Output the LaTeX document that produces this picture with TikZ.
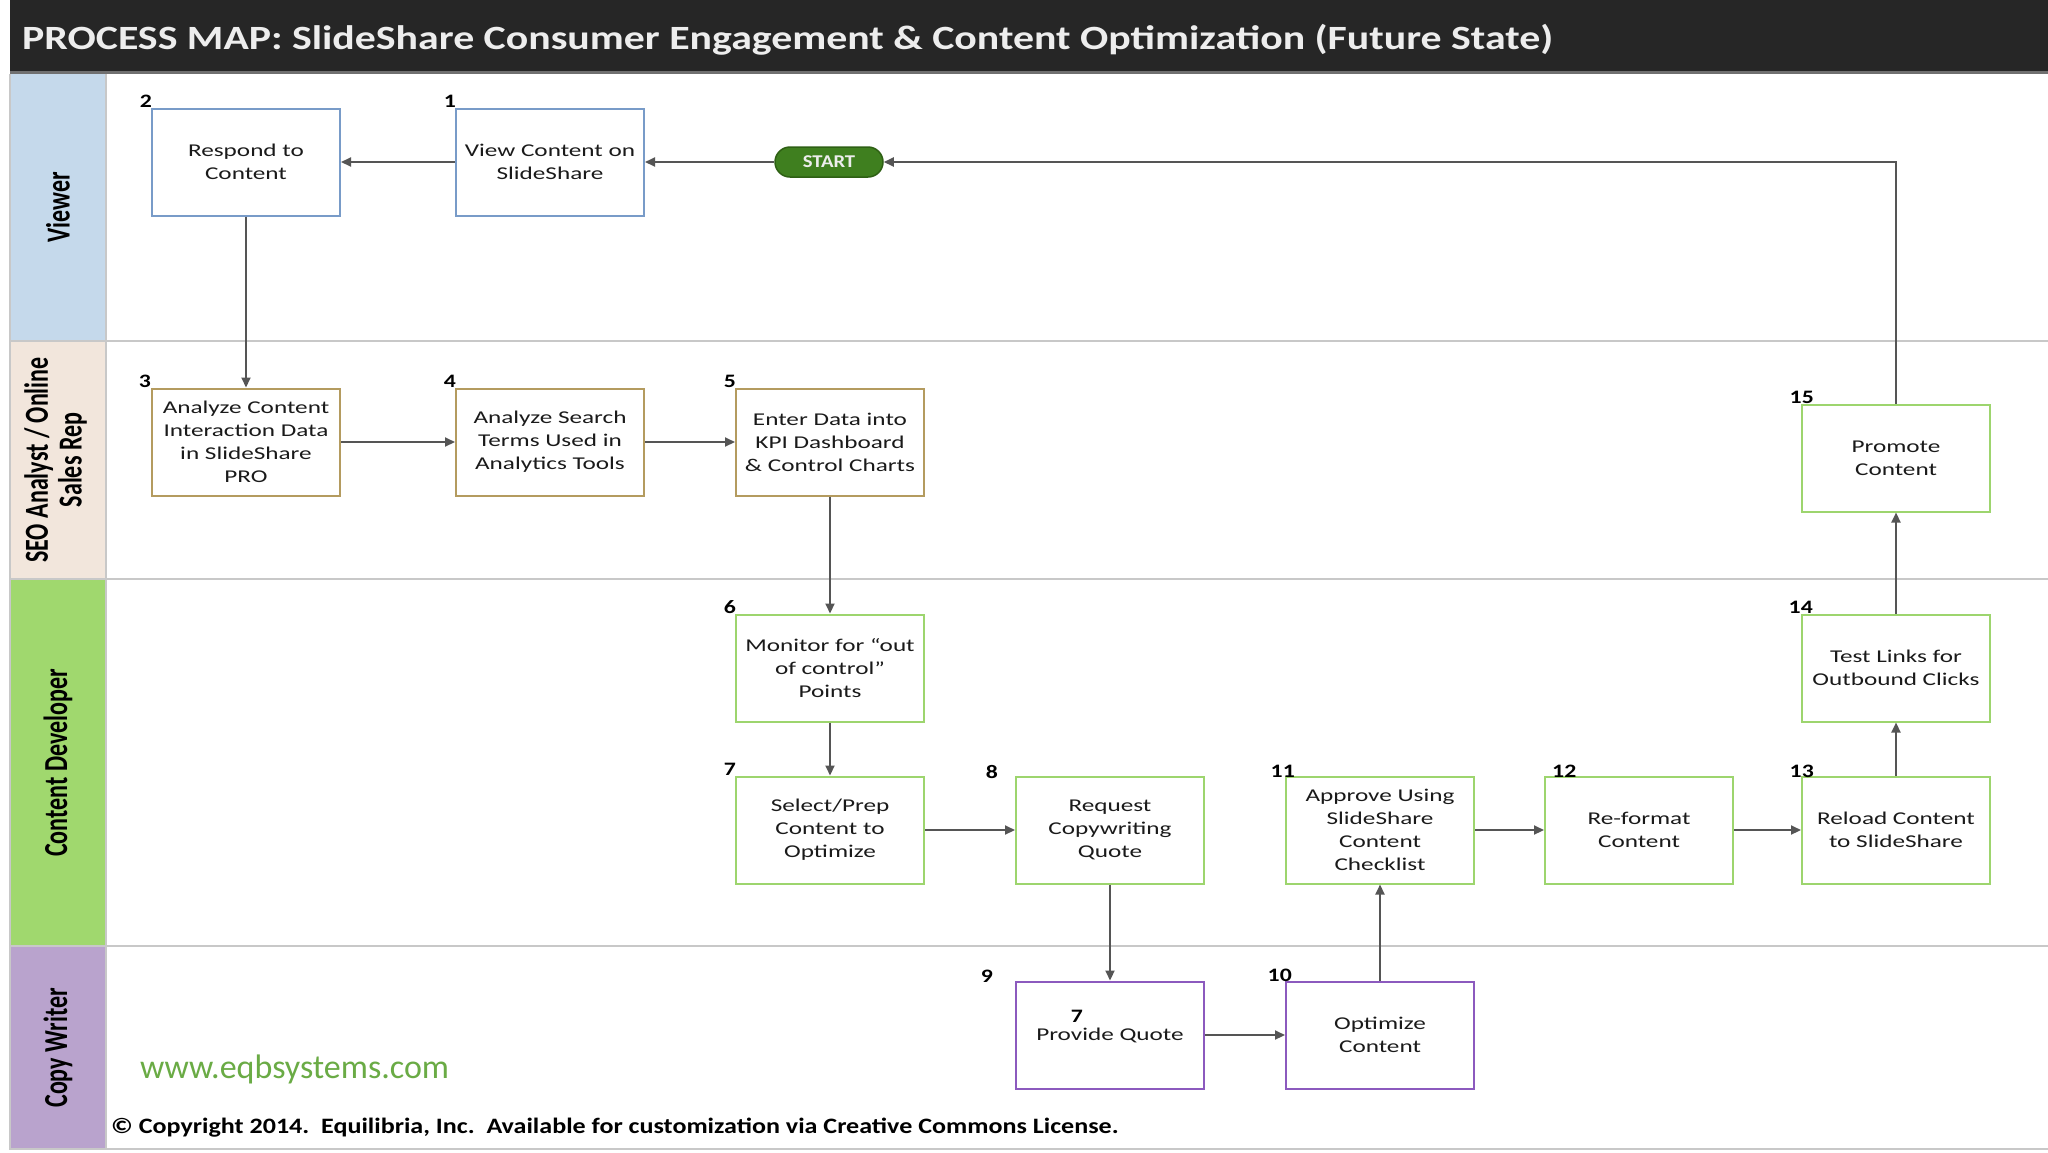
\documentclass[tikz,border=0pt]{standalone}
\usepackage{fontspec}
\usepackage{graphicx}
\setmainfont{Carlito}
\newfontfamily\boxfont{Carlito}[FakeStretch=1.4]
\newfontfamily\numfont{Carlito}[FakeStretch=1.25]
\newfontfamily\titlefont{Carlito}[FakeStretch=1.23]
\newfontfamily\startfont{Carlito}[FakeStretch=1.15]
\newfontfamily\copyfont{Carlito}[FakeStretch=1.185]
\usetikzlibrary{arrows.meta}
\definecolor{titlebg}{HTML}{262626}
\definecolor{titleline}{HTML}{707070}
\definecolor{titletxt}{HTML}{EDEDED}
\definecolor{vlane}{HTML}{C5D9EB}
\definecolor{slane}{HTML}{F2E6DC}
\definecolor{glane}{HTML}{A0D86E}
\definecolor{plane}{HTML}{B9A3CD}
\definecolor{vb}{HTML}{789BC8}
\definecolor{sb}{HTML}{B49B5F}
\definecolor{gb}{HTML}{9DD56E}
\definecolor{pb}{HTML}{8C5ABE}
\definecolor{cgray}{HTML}{555555}
\definecolor{laneline}{HTML}{C8C8C8}
\definecolor{txt}{HTML}{1A1A1A}
\definecolor{startfill}{HTML}{3F7F1F}
\definecolor{startdraw}{HTML}{2E6014}
\definecolor{wmark}{HTML}{6AAB45}
\begin{document}
\begin{tikzpicture}[x=1pt,y=-1pt,
  box/.style={draw, line width=2pt, fill=white, minimum width=188pt, minimum height=107pt,
    inner sep=0pt, align=center, text=txt, font=\boxfont\fontsize{18}{23}\selectfont},
  vbox/.style={box, draw=vb},
  sbox/.style={box, draw=sb},
  gbox/.style={box, draw=gb},
  pbox/.style={box, draw=pb},
  num/.style={font=\numfont\bfseries\fontsize{19}{19}\selectfont, inner sep=0pt, text=black},
  conn/.style={draw=cgray, line width=2pt, -{Triangle[length=10pt,width=9pt]}},
  lanelab/.style={rotate=90, inner sep=0pt, text=black, font=\bfseries\fontsize{24}{24}\selectfont},
  laneline/.style={draw=laneline, line width=2pt},
]
\useasboundingbox (0,0) rectangle (2048,1152);
\fill[white] (0,0) rectangle (2048,1152);
% title bar
\fill[titlebg] (10,0) rectangle (2048,71);
\draw[titleline, line width=3pt] (10,72) -- (2048,72);
\node[anchor=west, inner sep=0pt, text=titletxt, font=\titlefont\bfseries\fontsize{34}{34}\selectfont] (title) at (22,40)
  {PROCESS MAP: SlideShare Consumer Engagement \& Content Optimization (Future State)};
% lane headers
\fill[vlane] (11,74) rectangle (106,341);
\fill[slane] (11,341) rectangle (106,579);
\fill[glane] (11,579) rectangle (106,946);
\fill[plane] (11,946) rectangle (106,1149);
\draw[laneline] (10,74) -- (10,1150);
\draw[laneline] (106,74) -- (106,1149);
\draw[laneline] (10,341) -- (2048,341);
\draw[laneline] (10,579) -- (2048,579);
\draw[laneline] (10,946) -- (2048,946);
\draw[laneline] (10,1149) -- (2048,1149);
\node[lanelab] (lv) at (58,207) {\scalebox{1}[1.4]{Viewer}};
\node[lanelab] (ls) at (58,460) {\scalebox{1}[1.4]{\begin{tabular}{@{}c@{}}SEO Analyst / Online\\Sales Rep\end{tabular}}};
\node[lanelab] (lg) at (58,763) {\scalebox{1}[1.4]{Content Developer}};
\node[lanelab] (lp) at (58,1048) {\scalebox{1}[1.4]{Copy Writer}};
% process boxes
\node[vbox] (n1) at (550,162) {View Content on\\SlideShare};
\node[vbox] (n2) at (246,162) {Respond to\\Content};
\node[sbox] (n3) at (246,442) {Analyze Content\\Interaction Data\\in SlideShare\\PRO};
\node[sbox] (n4) at (550,442) {Analyze Search\\Terms Used in\\Analytics Tools};
\node[sbox] (n5) at (830,442) {Enter Data into\\KPI Dashboard\\\& Control Charts};
\node[gbox] (n6) at (830,668) {Monitor for “out\\of control”\\Points};
\node[gbox] (n7) at (830,830) {Select/Prep\\Content to\\Optimize};
\node[gbox] (n8) at (1110,830) {Request\\Copywriting\\Quote};
\node[pbox] (n9) at (1110,1035) {Provide Quote};
\node[pbox] (n10) at (1380,1035) {Optimize\\Content};
\node[gbox] (n11) at (1380,830) {Approve Using\\SlideShare\\Content\\Checklist};
\node[gbox] (n12) at (1639,830) {Re-format\\Content};
\node[gbox] (n13) at (1896,830) {Reload Content\\to SlideShare};
\node[gbox] (n14) at (1896,668) {Test Links for\\Outbound Clicks};
\node[gbox] (n15) at (1896,458) {Promote\\Content};
\node[draw=startdraw, line width=1.5pt, fill=startfill, rounded corners=15pt, minimum width=108pt,
  minimum height=30pt, inner sep=0pt, text=titletxt, font=\startfont\bfseries\fontsize{18}{18}\selectfont] (start) at (829,162) {START};
\node[num] (q7) at (1077,1016) {7};
% step numbers
\node[num, anchor=base east] (l1) at ([xshift=1pt]n1.north west) {1};
\node[num, anchor=base east] (l2) at ([xshift=1pt]n2.north west) {2};
\node[num, anchor=base east] (l3) at ([xshift=0pt]n3.north west) {3};
\node[num, anchor=base east] (l4) at ([xshift=1pt]n4.north west) {4};
\node[num, anchor=base east] (l5) at ([xshift=1pt]n5.north west) {5};
\node[num, anchor=base east] (l6) at ([xshift=1pt]n6.north west) {6};
\node[num, anchor=base east] (l7) at ([xshift=1pt]n7.north west) {7};
\node[num, anchor=base east] (l8) at ([xshift=-17pt,yshift=-3pt]n8.north west) {8};
\node[num, anchor=base east] (l9) at ([xshift=-22pt,yshift=-2pt]n9.north west) {9};
\node[num, anchor=base east] (l10) at ([xshift=7pt,yshift=-1pt]n10.north west) {10};
\node[num, anchor=base east] (l11) at ([xshift=10pt,yshift=-2pt]n11.north west) {11};
\node[num, anchor=base west] (l12) at ([xshift=8pt,yshift=-2pt]n12.north west) {12};
\node[num, anchor=base east] (l13) at ([xshift=13pt,yshift=-2pt]n13.north west) {13};
\node[num, anchor=base east] (l14) at ([xshift=12pt]n14.north west) {14};
\node[num, anchor=base east] (l15) at ([xshift=13pt]n15.north west) {15};
% connectors
\draw[conn] (start) -- (n1);
\draw[conn] (n1) -- (n2);
\draw[conn] (n2) -- (n3);
\draw[conn] (n3) -- (n4);
\draw[conn] (n4) -- (n5);
\draw[conn] (n5) -- (n6);
\draw[conn] (n6) -- (n7);
\draw[conn] (n7) -- (n8);
\draw[conn] (n8) -- (n9);
\draw[conn] (n9) -- (n10);
\draw[conn] (n10) -- (n11);
\draw[conn] (n11) -- (n12);
\draw[conn] (n12) -- (n13);
\draw[conn] (n13) -- (n14);
\draw[conn] (n14) -- (n15);
\draw[conn] (n15.north) |- (start.east);
% footer texts
\node[anchor=west, inner sep=0pt, text=wmark, font=\fontsize{34}{34}\selectfont] (wm) at (140,1069) {www.eqbsystems.com};
\node[anchor=west, inner sep=0pt, text=black, font=\copyfont\bfseries\fontsize{22}{22}\selectfont] (copy) at (111,1128)
  {© Copyright 2014.\ \ Equilibria, Inc.\ \ Available for customization via Creative Commons License.};
\end{tikzpicture}
\end{document}
